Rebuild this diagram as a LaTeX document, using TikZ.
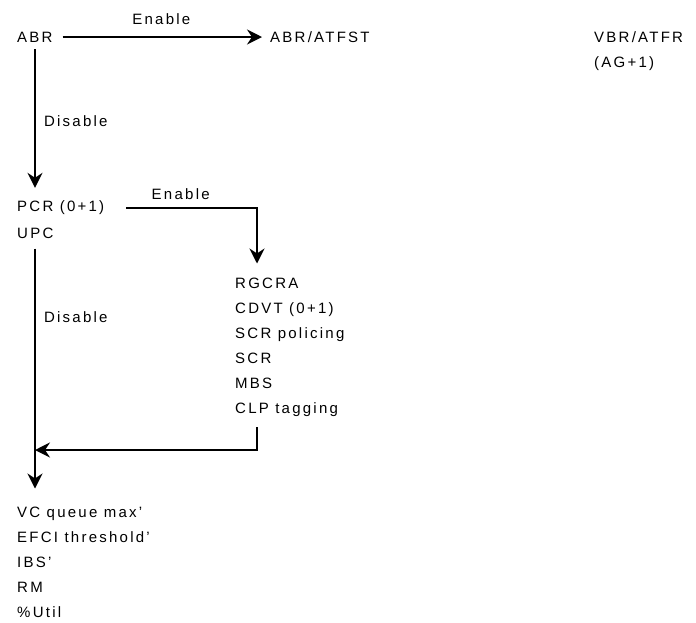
\documentclass[tikz,border=0pt]{standalone}
\usepackage{fontspec}
\setmainfont[LetterSpace=15]{Liberation Sans}
\usepackage{tikz}
\usetikzlibrary{arrows.meta, positioning, calc}
\newcommand{\diagfont}{\fontsize{15}{25}\selectfont}

\begin{document}
\begin{tikzpicture}[
    x=1pt, y=-1pt,
    txt/.style={inner sep=0pt, anchor=west, font=\diagfont},
    list/.style={inner sep=0pt, anchor=north west, align=left, font=\diagfont},
    lbl/.style={inner sep=0pt, font=\diagfont},
    arrow/.style={-{Stealth[length=15pt, width=15pt, inset=5pt]}, line width=2pt},
]
  \useasboundingbox (0,0) rectangle (696,622);

  \node[txt] (abr) at (17,37) {ABR};
  \node[txt] (abratfst) at (270,37) {ABR/ATFST};
  \node[list] (vbr) at (594,31.5) {VBR/ATFR\\(AG+1)};
  \node[txt] (pcr) at (17,208) {PCR (0+1)};
  \node[txt, below=13pt of pcr.south west, anchor=north west] (upc) {UPC};
  \node[list] (rgcra) at (235,277.5) {RGCRA\\CDVT (0+1)\\SCR policing\\SCR\\MBS\\CLP tagging};
  \node[list] (vcq) at (17,506.5) {VC queue max'\\EFCI threshold'\\IBS'\\RM\\\%Util};
  \coordinate (join) at (35,450);

  \draw[arrow, shorten <=10pt, shorten >=8pt] (abr.east) -- node[lbl, above=11pt] {Enable} (abratfst.west);
  \draw[arrow, shorten <=7pt, shorten >=13pt] (abr.south -| join) -- node[lbl, right=8pt] {Disable} (pcr.north -| join);
  \draw[arrow, shorten <=22pt, shorten >=14pt] (pcr.east) -| node[lbl, pos=0.25, above=7pt] {Enable} ([xshift=22pt]rgcra.north west);
  \draw[arrow, shorten <=9.5pt, shorten >=18pt] (upc.south -| join) -- node[lbl, pos=0.29, right=8pt] {Disable} (vcq.north -| join);
  \draw[arrow, shorten <=11pt] ([xshift=22pt]rgcra.south west) |- (join);
\end{tikzpicture}
\end{document}
